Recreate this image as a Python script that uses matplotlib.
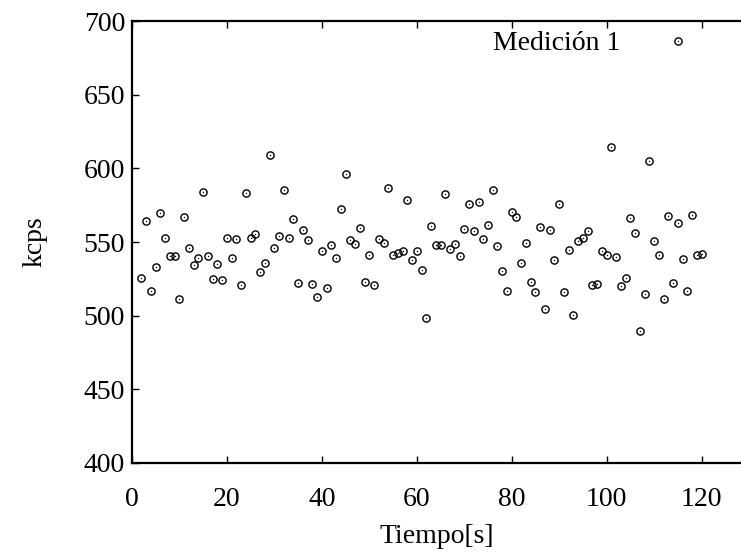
import numpy as np
import matplotlib
matplotlib.use("Agg")
import matplotlib.pyplot as plt
from matplotlib.legend_handler import HandlerTuple

plt.rcParams['font.family'] = ['Liberation Serif', 'DejaVu Serif']

# tiempo en segundos y lectura en kcps
tiempo = list(range(2, 121))
kcps = [
    525.9, 564.4, 516.9, 533.1, 569.4, 552.7, 540.5, 540.3, 511.3, 566.7,
    545.7, 534.2, 539.0, 583.6, 540.5, 525.0, 535.1, 524.3, 552.9, 539.0,
    552.0, 520.7, 583.1, 552.5, 555.6, 529.3, 536.0, 609.0, 546.2, 553.8,
    585.6, 552.5, 565.8, 522.1, 558.3, 551.1, 521.2, 512.4, 543.9, 518.9,
    548.0, 539.4, 572.3, 596.4, 551.6, 548.4, 559.5, 523.0, 541.0, 521.0,
    552.0, 549.5, 586.7, 541.2, 542.8, 543.9, 578.6, 538.1, 544.1, 530.9,
    498.2, 560.6, 548.2, 548.2, 582.4, 545.5, 548.9, 540.8, 559.0, 576.1,
    557.2, 577.3, 552.0, 561.3, 585.1, 547.1, 530.0, 516.9, 570.7, 566.9,
    535.6, 549.1, 523.0, 516.4, 560.1, 504.5, 557.9, 538.1, 575.5, 515.8,
    544.4, 500.7, 550.7, 552.9, 557.2, 520.5, 521.8, 543.7, 541.0, 614.6,
    539.9, 519.8, 525.9, 566.4, 556.3, 489.9, 514.6, 605.0, 550.9, 541.4,
    511.0, 567.8, 522.5, 562.8, 538.3, 516.9, 568.5, 541.0, 542.1,
]
serie = "Medición 1"

fs = 20

fig = plt.figure(figsize=(7.41, 5.56), dpi=100)
ax = fig.add_axes([132 / 741, 93 / 556, 609 / 741, 442 / 556])

h1, = ax.plot(tiempo, kcps, linestyle='none', marker='o', markersize=5.2,
              markerfacecolor='none', markeredgecolor='black', markeredgewidth=1.0)
h2, = ax.plot(tiempo, kcps, linestyle='none', marker='o', markersize=1.0,
              markerfacecolor='black', markeredgecolor='black', markeredgewidth=0)

ax.set_xlim(0, 128.3)
ax.set_ylim(400, 700)
ax.set_xticks(range(0, 121, 20))
ax.set_yticks(range(400, 701, 50))
ax.tick_params(direction='in', length=5, width=1, labelsize=fs,
               top=True, right=False)
ax.tick_params(axis='x', pad=17)
ax.tick_params(axis='y', pad=5)
for s in ['left', 'bottom', 'top']:
    ax.spines[s].set_linewidth(1.6)
ax.spines['right'].set_visible(False)

ax.set_xlabel('Tiempo[s]', fontsize=fs, labelpad=9)
ax.set_ylabel('kcps', fontsize=fs, labelpad=26)

ax.legend([(h1, h2)], [serie], handler_map={tuple: HandlerTuple(ndivide=1)},
          loc='upper right', bbox_to_anchor=(706 / 741, 1 - 17 / 556),
          bbox_transform=fig.transFigure, frameon=False, markerfirst=False,
          fontsize=fs, handlelength=1.0, handletextpad=1.6, borderpad=0)

fig.savefig('out.png', dpi=100)
